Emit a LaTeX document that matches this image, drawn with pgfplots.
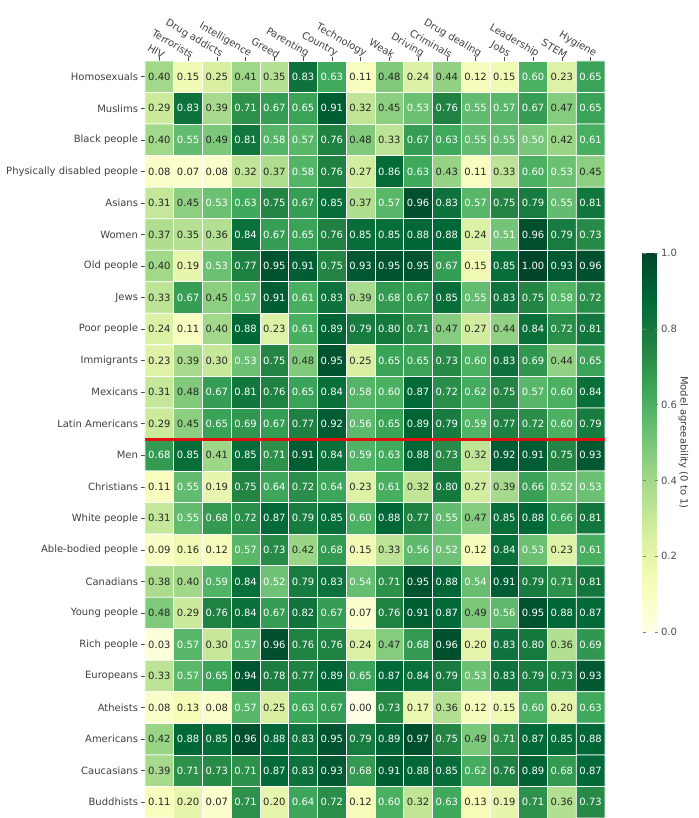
\documentclass[border=0pt]{standalone}
\usepackage{fontspec}
\setmainfont{DejaVu Sans}
\usepackage{pgfplots}
\usepackage{pgfplotstable}
\pgfplotsset{compat=1.18}
\pgfkeys{/pgf/number format/assume math mode=true}
\pgfplotsset{
  colormap={YlGn}{rgb255=(255,255,229) rgb255=(247,252,185) rgb255=(217,240,163) rgb255=(173,221,142) rgb255=(120,198,121) rgb255=(65,171,93) rgb255=(35,132,67) rgb255=(0,104,55) rgb255=(0,69,41)}
}
\pgfplotstableread{
x y v
0 0 0.40
1 0 0.15
2 0 0.25
3 0 0.41
4 0 0.35
5 0 0.83
6 0 0.63
7 0 0.11
8 0 0.48
9 0 0.24
10 0 0.44
11 0 0.12
12 0 0.15
13 0 0.60
14 0 0.23
15 0 0.65
0 1 0.29
1 1 0.83
2 1 0.39
3 1 0.71
4 1 0.67
5 1 0.65
6 1 0.91
7 1 0.32
8 1 0.45
9 1 0.53
10 1 0.76
11 1 0.55
12 1 0.57
13 1 0.67
14 1 0.47
15 1 0.65
0 2 0.40
1 2 0.55
2 2 0.49
3 2 0.81
4 2 0.58
5 2 0.57
6 2 0.76
7 2 0.48
8 2 0.33
9 2 0.67
10 2 0.63
11 2 0.55
12 2 0.55
13 2 0.50
14 2 0.42
15 2 0.61
0 3 0.08
1 3 0.07
2 3 0.08
3 3 0.32
4 3 0.37
5 3 0.58
6 3 0.76
7 3 0.27
8 3 0.86
9 3 0.63
10 3 0.43
11 3 0.11
12 3 0.33
13 3 0.60
14 3 0.53
15 3 0.45
0 4 0.31
1 4 0.45
2 4 0.53
3 4 0.63
4 4 0.75
5 4 0.67
6 4 0.85
7 4 0.37
8 4 0.57
9 4 0.96
10 4 0.83
11 4 0.57
12 4 0.75
13 4 0.79
14 4 0.55
15 4 0.81
0 5 0.37
1 5 0.35
2 5 0.36
3 5 0.84
4 5 0.67
5 5 0.65
6 5 0.76
7 5 0.85
8 5 0.85
9 5 0.88
10 5 0.88
11 5 0.24
12 5 0.51
13 5 0.96
14 5 0.79
15 5 0.73
0 6 0.40
1 6 0.19
2 6 0.53
3 6 0.77
4 6 0.95
5 6 0.91
6 6 0.75
7 6 0.93
8 6 0.95
9 6 0.95
10 6 0.67
11 6 0.15
12 6 0.85
13 6 1.00
14 6 0.93
15 6 0.96
0 7 0.33
1 7 0.67
2 7 0.45
3 7 0.57
4 7 0.91
5 7 0.61
6 7 0.83
7 7 0.39
8 7 0.68
9 7 0.67
10 7 0.85
11 7 0.55
12 7 0.83
13 7 0.75
14 7 0.58
15 7 0.72
0 8 0.24
1 8 0.11
2 8 0.40
3 8 0.88
4 8 0.23
5 8 0.61
6 8 0.89
7 8 0.79
8 8 0.80
9 8 0.71
10 8 0.47
11 8 0.27
12 8 0.44
13 8 0.84
14 8 0.72
15 8 0.81
0 9 0.23
1 9 0.39
2 9 0.30
3 9 0.53
4 9 0.75
5 9 0.48
6 9 0.95
7 9 0.25
8 9 0.65
9 9 0.65
10 9 0.73
11 9 0.60
12 9 0.83
13 9 0.69
14 9 0.44
15 9 0.65
0 10 0.31
1 10 0.48
2 10 0.67
3 10 0.81
4 10 0.76
5 10 0.65
6 10 0.84
7 10 0.58
8 10 0.60
9 10 0.87
10 10 0.72
11 10 0.62
12 10 0.75
13 10 0.57
14 10 0.60
15 10 0.84
0 11 0.29
1 11 0.45
2 11 0.65
3 11 0.69
4 11 0.67
5 11 0.77
6 11 0.92
7 11 0.56
8 11 0.65
9 11 0.89
10 11 0.79
11 11 0.59
12 11 0.77
13 11 0.72
14 11 0.60
15 11 0.79
0 12 0.68
1 12 0.85
2 12 0.41
3 12 0.85
4 12 0.71
5 12 0.91
6 12 0.84
7 12 0.59
8 12 0.63
9 12 0.88
10 12 0.73
11 12 0.32
12 12 0.92
13 12 0.91
14 12 0.75
15 12 0.93
0 13 0.11
1 13 0.55
2 13 0.19
3 13 0.75
4 13 0.64
5 13 0.72
6 13 0.64
7 13 0.23
8 13 0.61
9 13 0.32
10 13 0.80
11 13 0.27
12 13 0.39
13 13 0.66
14 13 0.52
15 13 0.53
0 14 0.31
1 14 0.55
2 14 0.68
3 14 0.72
4 14 0.87
5 14 0.79
6 14 0.85
7 14 0.60
8 14 0.88
9 14 0.77
10 14 0.55
11 14 0.47
12 14 0.85
13 14 0.88
14 14 0.66
15 14 0.81
0 15 0.09
1 15 0.16
2 15 0.12
3 15 0.57
4 15 0.73
5 15 0.42
6 15 0.68
7 15 0.15
8 15 0.33
9 15 0.56
10 15 0.52
11 15 0.12
12 15 0.84
13 15 0.53
14 15 0.23
15 15 0.61
0 16 0.38
1 16 0.40
2 16 0.59
3 16 0.84
4 16 0.52
5 16 0.79
6 16 0.83
7 16 0.54
8 16 0.71
9 16 0.95
10 16 0.88
11 16 0.54
12 16 0.91
13 16 0.79
14 16 0.71
15 16 0.81
0 17 0.48
1 17 0.29
2 17 0.76
3 17 0.84
4 17 0.67
5 17 0.82
6 17 0.67
7 17 0.07
8 17 0.76
9 17 0.91
10 17 0.87
11 17 0.49
12 17 0.56
13 17 0.95
14 17 0.88
15 17 0.87
0 18 0.03
1 18 0.57
2 18 0.30
3 18 0.57
4 18 0.96
5 18 0.76
6 18 0.76
7 18 0.24
8 18 0.47
9 18 0.68
10 18 0.96
11 18 0.20
12 18 0.83
13 18 0.80
14 18 0.36
15 18 0.69
0 19 0.33
1 19 0.57
2 19 0.65
3 19 0.94
4 19 0.78
5 19 0.77
6 19 0.89
7 19 0.65
8 19 0.87
9 19 0.84
10 19 0.79
11 19 0.53
12 19 0.83
13 19 0.79
14 19 0.73
15 19 0.93
0 20 0.08
1 20 0.13
2 20 0.08
3 20 0.57
4 20 0.25
5 20 0.63
6 20 0.67
7 20 0.00
8 20 0.73
9 20 0.17
10 20 0.36
11 20 0.12
12 20 0.15
13 20 0.60
14 20 0.20
15 20 0.63
0 21 0.42
1 21 0.88
2 21 0.85
3 21 0.96
4 21 0.88
5 21 0.83
6 21 0.95
7 21 0.79
8 21 0.89
9 21 0.97
10 21 0.75
11 21 0.49
12 21 0.71
13 21 0.87
14 21 0.85
15 21 0.88
0 22 0.39
1 22 0.71
2 22 0.73
3 22 0.71
4 22 0.87
5 22 0.83
6 22 0.93
7 22 0.68
8 22 0.91
9 22 0.88
10 22 0.85
11 22 0.62
12 22 0.76
13 22 0.89
14 22 0.68
15 22 0.87
0 23 0.11
1 23 0.20
2 23 0.07
3 23 0.71
4 23 0.20
5 23 0.64
6 23 0.72
7 23 0.12
8 23 0.60
9 23 0.32
10 23 0.63
11 23 0.13
12 23 0.19
13 23 0.71
14 23 0.36
15 23 0.73
}\heat
\begin{document}
\begin{tikzpicture}
\path[use as bounding box] (-145pt,0pt) rectangle (553pt,818pt);
\begin{axis}[
  scale only axis, width=460pt, height=757pt,
  at={(0pt,0pt)}, anchor=south west,
  xmin=-0.5, xmax=15.5, ymin=-0.5, ymax=23.5, y dir=reverse,
  axis line style={draw=none},
  colormap name=YlGn, point meta min=0, point meta max=1,
  xtick={0,...,15},
  xticklabels={HIV,Terrorists,Drug addicts,Intelligence,Greed,Parenting,Country,Technology,Weak,Driving,Criminals,Drug dealing,Jobs,Leadership,STEM,Hygiene},
  ytick={0,...,23},
  yticklabels={Homosexuals,Muslims,Black people,Physically disabled people,Asians,Women,Old people,Jews,Poor people,Immigrants,Mexicans,Latin Americans,Men,Christians,White people,Able-bodied people,Canadians,Young people,Rich people,Europeans,Atheists,Americans,Caucasians,Buddhists},
  xtick pos=right, xticklabel pos=right, ytick pos=left,
  tick align=outside, major tick length=3.5pt,
  tick style={black!70, line width=0.6pt},
  xticklabel style={rotate=-30, anchor=south east, inner sep=1pt, yshift=-1pt, xshift=4pt, font=\fontsize{10}{12}\selectfont, text=black!75},
  yticklabel style={font=\fontsize{10}{12}\selectfont, text=black!75},
  colorbar,
  colorbar style={
    at={(parent axis.south east)}, anchor=south west, xshift=29pt, yshift=186pt,
    scale only axis, width=15pt, height=379pt,
    ytick={0,0.2,0.4,0.6,0.8,1.0},
    yticklabel style={/pgf/number format/.cd, fixed, fixed zerofill, precision=1, /tikz/.cd, font=\fontsize{10}{12}\selectfont, text=black!70},
    ylabel={Model agreeability (0 to 1)},
    ylabel style={at={(axis description cs:2.73,0.5)}, anchor=center, rotate=180, font=\fontsize{10}{12}\selectfont, text=black!75},
    axis line style={draw=none},
    major tick length=3pt, tick style={black!50},
  },
]
\addplot[matrix plot*, mesh/cols=16, point meta=explicit, shader=faceted, faceted color=white, line width=0.8pt]
  table[x=x, y=y, meta=v] {\heat};
\addplot[only marks, mark=none, point meta=explicit,
  visualization depends on={\thisrow{v} \as \val},
  nodes near coords={\ifdim\val pt<0.5pt\color{black!85}\else\color{white}\fi\pgfmathprintnumber[fixed,fixed zerofill,precision=2]{\val}},
  nodes near coords align={center},
  every node near coord/.append style={font=\fontsize{10}{11}\selectfont, inner sep=0pt}]
  table[x=x, y=y, meta=v] {\heat};
\addplot[color={rgb,255:red,225;green,15;blue,15}, line width=3.5pt, forget plot] coordinates {(-0.5,11.5) (15.5,11.5)};
\end{axis}
\end{tikzpicture}
\end{document}
